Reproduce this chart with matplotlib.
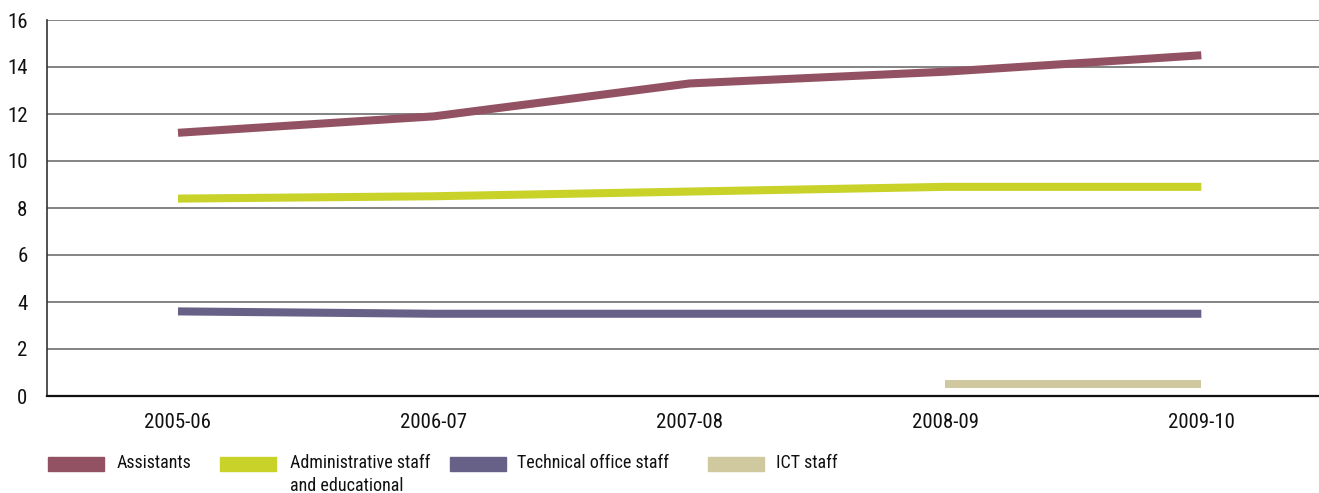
import matplotlib
matplotlib.use("Agg")
import matplotlib.pyplot as plt
from matplotlib.patches import Rectangle

plt.rcParams['font.family'] = ['Liberation Sans Narrow', 'DejaVu Sans Condensed',
                               'Roboto Condensed', 'Liberation Sans', 'DejaVu Sans']

years = ["2005-06", "2006-07", "2007-08", "2008-09", "2009-10"]
assistants = [11.2, 11.9, 13.3, 13.8, 14.5]
admin_staff = [8.4, 8.5, 8.7, 8.9, 8.9]
technical_staff = [3.6, 3.5, 3.5, 3.5, 3.5]
ict_staff = [None, None, None, 0.5, 0.5]

series_names = ["Assistants", "Administrative staff\nand educational",
                "Technical office staff", "ICT staff"]
colors = ["#935264", "#c8d229", "#676087", "#d0c99f"]

W, H = 1319, 493
fig = plt.figure(figsize=(W / 100, H / 100), dpi=100)
ax = fig.add_axes([47 / W, (H - 396) / H, 1 - 47 / W, (396 - 20) / H])

x = list(range(len(years)))
for vals, c in zip([assistants, admin_staff, technical_staff, ict_staff], colors):
    xs = [i for i, v in zip(x, vals) if v is not None]
    ys = [v for v in vals if v is not None]
    ax.plot(xs, ys, color=c, lw=5.8, solid_capstyle="butt", solid_joinstyle="round", zorder=3)

ax.set_ylim(0, 16)
ax.set_yticks(range(0, 17, 2))
ax.set_xlim(-0.512, 4.46)
ax.set_xticks(x)
ax.set_xticklabels(years)
ax.grid(axis="y", color="#7a7a7a", lw=1.3, zorder=1)
ax.set_axisbelow(True)
for s in ["top", "right"]:
    ax.spines[s].set_visible(False)
ax.spines["left"].set_color("#333333")
ax.spines["left"].set_linewidth(1.2)
ax.spines["bottom"].set_color("#111111")
ax.spines["bottom"].set_linewidth(1.6)
ax.tick_params(axis="both", length=0, labelsize=15, colors="#111111")
ax.tick_params(axis="y", pad=14)
ax.tick_params(axis="x", pad=12)

# legend drawn along the bottom of the figure
legend_x = [48, 220, 450, 708]
text_x = [117, 290, 517, 776]
for lx, tx, name, c in zip(legend_x, text_x, series_names, colors):
    fig.patches.append(Rectangle((lx / W, (H - 471) / H), 56 / W, 14 / H,
                                 transform=fig.transFigure, color=c))
    fig.text(tx / W, (H - 454) / H, name, ha="left", va="top",
             fontsize=13, color="#111111", linespacing=1.35)

fig.savefig("out.png", dpi=100)
